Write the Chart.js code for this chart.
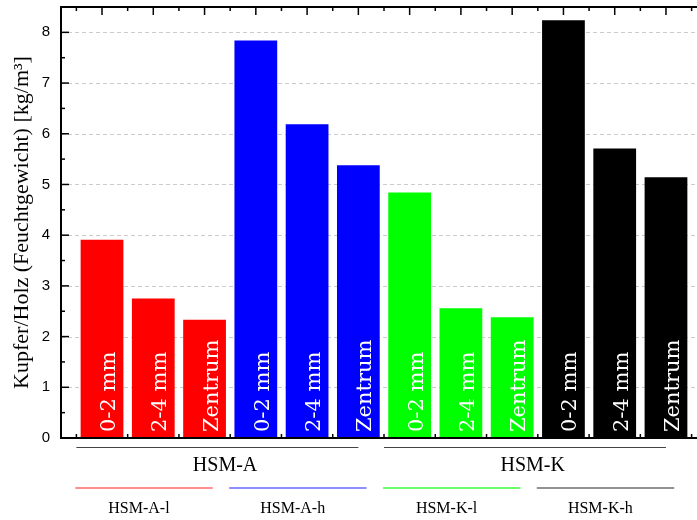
<!DOCTYPE html>
<html>
<head>
<meta charset="utf-8">
<script src="https://cdn.jsdelivr.net/npm/chart.js@4.4.1/dist/chart.umd.min.js"></script>
<style>
	html, body { margin: 0; padding: 0; background: #fff; overflow: hidden; }
	canvas { display: block; }
</style>
</head>
<body>
<canvas id="barChart" width="712" height="520"></canvas>
<script>
const categories = ["0-2 mm", "2-4 mm", "Zentrum", "0-2 mm", "2-4 mm", "Zentrum", "0-2 mm", "2-4 mm", "Zentrum", "0-2 mm", "2-4 mm", "Zentrum"]
const values = [3.91, 2.75, 2.33, 7.84, 6.19, 5.38, 4.84, 2.56, 2.38, 8.24, 5.71, 5.14]
const groups = ["HSM-A-l", "HSM-A-h", "HSM-K-l", "HSM-K-h"]
const groupColors = ["#ff0000", "#0000ff", "#00ff00", "#000000"]
const lineColors = ["#ff6868", "#6868ff", "#3cff3c", "#6e6e6e"]
const sites = ["HSM-A", "HSM-K"]
const yTicks = [0, 1, 2, 3, 4, 5, 6, 7, 8]

const barColors = values.map((v, i) => groupColors[Math.floor(i / 3)])
const points = values.map((v, i) => ({ x: i + 1, y: v }))

const line = (ctx, x1, y1, x2, y2) => {
	ctx.beginPath()
	ctx.moveTo(x1, y1)
	ctx.lineTo(x2, y2)
	ctx.stroke()
}

const framePlugin = {
	id: "frame",
	beforeDatasetsDraw(chart) {
		const { ctx, chartArea: a, scales: { x, y } } = chart
		ctx.save()
		// dashed grid
		ctx.strokeStyle = "#cccccc"
		ctx.lineWidth = 1
		ctx.setLineDash([4, 3])
		yTicks.forEach((t) => {
			if (t === 0) return
			const py = Math.round(y.getPixelForValue(t)) + 0.5
			line(ctx, a.left, py, a.right, py)
		})
		ctx.setLineDash([])
		// inward ticks
		ctx.strokeStyle = "#000"
		ctx.lineWidth = 1.5
		for (let v = 0; v <= 8.5; v += 0.5) {
			const len = v % 1 === 0 ? 8 : 4
			const py = y.getPixelForValue(v)
			line(ctx, a.left, py, a.left + len, py)
			line(ctx, a.right, py, a.right - len, py)
		}
		for (let v = 0.5; v <= 12.5; v += 0.5) {
			const len = v % 1 === 0 ? 8 : 4
			const px = x.getPixelForValue(v)
			line(ctx, px, a.top, px, a.top + len)
			line(ctx, px, a.bottom, px, a.bottom - len)
		}
		ctx.restore()
	},
	afterDatasetsDraw(chart) {
		const { ctx, chartArea: a, scales: { x } } = chart
		ctx.save()
		ctx.strokeStyle = "#000"
		ctx.lineWidth = 2
		ctx.strokeRect(a.left, a.top, a.right - a.left, a.bottom - a.top)

		// labels inside the bars
		ctx.fillStyle = "#fff"
		ctx.font = "21px 'DejaVu Serif'"
		ctx.textAlign = "left"
		ctx.textBaseline = "alphabetic"
		chart.getDatasetMeta(0).data.forEach((bar, i) => {
			ctx.save()
			ctx.translate(bar.x + 13, a.bottom - 6)
			ctx.rotate(-Math.PI / 2)
			ctx.fillText(categories[i], 0, 0)
			ctx.restore()
		})

		// site brackets
		ctx.fillStyle = "#000"
		ctx.textAlign = "center"
		ctx.textBaseline = "middle"
		ctx.strokeStyle = "#444"
		ctx.lineWidth = 1
		ctx.font = "20px 'Liberation Serif'"
		sites.forEach((s, i) => {
			const x1 = x.getPixelForValue(6 * i + 0.5)
			const x2 = x.getPixelForValue(6 * i + 6)
			line(ctx, x1, a.bottom + 9.5, x2, a.bottom + 9.5)
			ctx.fillText(s, x.getPixelForValue(6 * i + 3.4), a.bottom + 28)
		})

		// group lines
		ctx.lineWidth = 1.5
		ctx.font = "16px 'Liberation Serif'"
		groups.forEach((g, i) => {
			const start = 3 * i + 0.48
			const x1 = x.getPixelForValue(start)
			const x2 = x.getPixelForValue(start + 2.68)
			ctx.strokeStyle = lineColors[i]
			line(ctx, x1, a.bottom + 50, x2, a.bottom + 50)
			ctx.fillText(g, x.getPixelForValue(start + 1.24), a.bottom + 71)
		})
		ctx.restore()
	},
}

new Chart(document.getElementById("barChart").getContext("2d"), {
	type: "bar",
	data: {
		datasets: [
			{
				data: points,
				backgroundColor: barColors,
				borderWidth: 0,
				categoryPercentage: 1,
				barPercentage: 0.834,
			},
		],
	},
	options: {
		responsive: false,
		animation: false,
		devicePixelRatio: 1,
		layout: { padding: { top: 7, right: 5, bottom: 82, left: 0 } },
		plugins: { legend: { display: false }, tooltip: { enabled: false } },
		scales: {
			x: { type: "linear", min: 0.2, max: 12.8, offset: false, display: false },
			y: {
				min: 0,
				max: 8.5,
				afterBuildTicks: (scale) => {
					scale.ticks = yTicks.map((v) => ({ value: v }))
				},
				afterFit: (scale) => {
					scale.width = 61
					scale.paddingTop = 0
					scale.paddingBottom = 0
				},
				grid: { display: false, drawTicks: false },
				border: { display: false },
				ticks: {
					padding: 11,
					color: "#000",
					font: { family: "'Liberation Sans'", size: 15 },
				},
				title: {
					display: true,
					text: "Kupfer/Holz (Feuchtgewicht) [kg/m³]",
					color: "#000",
					font: { family: "'Liberation Serif'", size: 22 },
					padding: { top: 9, bottom: 0 },
				},
			},
		},
	},
	plugins: [framePlugin],
})
</script>
</body>
</html>
